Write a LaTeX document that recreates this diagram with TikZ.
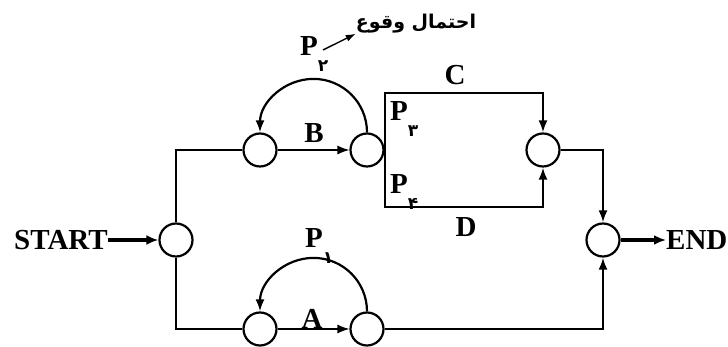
\documentclass[tikz,border=0pt]{standalone}
\usepackage{fontspec}
\setmainfont{Liberation Serif}
\newfontfamily\arabicfont[Script=Arabic]{DejaVu Sans}
\TeXXeTstate=1
\usetikzlibrary{arrows.meta,calc}
\newcommand{\pdig}[1]{\raisebox{-0.55em}{\arabicfont\fontsize{17}{17}\selectfont\bfseries #1}}
\begin{document}
\begin{tikzpicture}[x=1pt,y=1pt,
  evt/.style={circle,draw,line width=2.2pt,minimum size=33pt,inner sep=0pt},
  ln/.style={line width=2.2pt},
  arr/.style={line width=2.2pt,-{Latex[length=12pt,width=9pt]}},
  thinarr/.style={line width=1.2pt,-{Latex[length=12pt,width=9pt]}},
  bigarr/.style={line width=3.5pt,-{Latex[length=12pt,width=10pt]}},
  lab/.style={font=\fontsize{29}{29}\selectfont\bfseries,inner sep=0pt},
  plab/.style={font=\fontsize{29}{29}\selectfont\bfseries,inner sep=0pt,anchor=west}]
\useasboundingbox (0,0) rectangle (728,347);
\node[evt] (s) at (176,107) {};
\node[evt] (b1) at (260,197) {};
\node[evt] (b2) at (367,197) {};
\node[evt] (a1) at (260,18) {};
\node[evt] (a2) at (367,18) {};
\node[evt] (c) at (543,197) {};
\node[evt] (e) at (603,107) {};
\node[lab] (start) at (61,107) {START};
\node[lab,anchor=west] (end) at (666,107) {END};
\node[lab] (B) at (314,214) {B};
\node[lab] (A) at (312,28) {A};
\node[lab] (C) at (455,272) {C};
\node[lab] (D) at (466,120) {D};
\node[plab] (p2) at (300,293) {P\pdig{۲}};
\node[plab] (p1) at (305,101) {P\pdig{۱}};
\node[plab] (p3) at (390,228) {P\pdig{۳}};
\node[plab] (p4) at (390,155) {P\pdig{۴}};
\node[inner sep=0pt] (prob) at (416,323) {\arabicfont\fontsize{19}{19}\selectfont\bfseries\beginR احتمال وقوع\endR};
% connectors
\draw[bigarr] (start.east) -- (s.west);
\draw[ln] (s.north) |- (b1.west);
\draw[ln] (s.south) |- (a1.west);
\draw[thinarr] (b1.east) -- (b2.west);
\draw[thinarr] (a1.east) -- (a2.west);
\draw[arr] (b2.north) arc[start angle=0,end angle=180,radius=53.5];
\draw[arr] (a2.north) arc[start angle=0,end angle=180,radius=53.5];
\coordinate (tl) at ($(b2.east)+(0,57)$);
\coordinate (bl) at ($(b2.east)+(0,-57)$);
\draw[arr] (b2.east) -- (tl) -| (c.north);
\draw[arr] (b2.east) -- (bl) -| (c.south);
\draw[arr] (c.east) -| (e.north);
\draw[arr] (a2.east) -| (e.south);
\draw[bigarr] (e.east) -- (end.west);
\coordinate (pfrom) at (323,297);
\draw[line width=1.4pt,-{Latex[length=10pt,width=7pt]}] (pfrom) -- (prob.south west);
\end{tikzpicture}
\end{document}
